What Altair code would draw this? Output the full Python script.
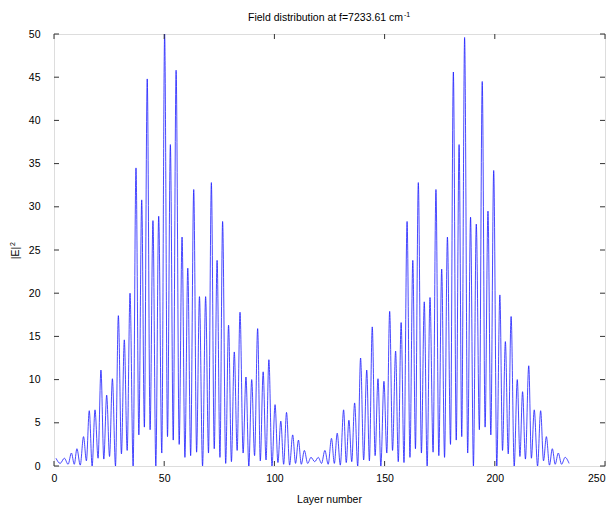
import altair as alt
import pandas as pd

# Extrema of |E|^2 (layer position, value)
left_layer = [0.9, 2.8, 4.7, 6.4, 7.9, 9.2, 10.4, 11.9, 13.4, 14.7, 16.0, 17.3, 18.6, 20.0,
              21.3, 22.6, 23.9, 25.2, 26.5, 27.9, 29.2, 30.6, 31.9, 33.2, 34.5, 35.9, 37.2,
              38.5, 39.8, 41.0, 42.3, 43.6, 44.9, 46.2, 47.5, 48.9, 50.2, 51.5, 52.8, 54.1,
              55.4, 56.8, 58.1, 59.4, 60.7, 62.0, 63.4, 64.7, 66.0, 67.4, 68.8, 70.1, 71.4,
              72.7, 74.0, 75.3, 76.5, 77.9, 79.2, 80.5, 81.8, 83.1, 84.4, 85.8, 87.1, 88.4,
              89.7, 91.0, 92.4, 93.6, 94.9, 96.2, 97.5, 98.9, 100.3, 101.6, 102.9, 104.2,
              105.5, 106.9, 108.3, 109.6, 110.9, 112.2, 113.6, 115.1, 116.6]
left_e2 = [0.9, 0.3, 0.9, 0.2, 1.5, 0.2, 2.0, 0.1, 3.4, 0.6, 6.4, 0.0, 6.5, 0.9,
           11.1, 0.8, 8.2, 1.1, 10.1, 0.0, 17.4, 1.4, 14.6, 1.8, 20.0, 0.0, 34.5,
           3.6, 30.8, 4.5, 44.8, 4.2, 28.4, 0.0, 28.9, 1.5, 50.0, 3.4, 37.2, 3.0,
           45.8, 2.5, 26.5, 1.0, 22.9, 1.2, 32.0, 1.6, 19.6, 0.0, 19.6, 1.5, 32.8,
           2.0, 23.8, 1.0, 28.3, 0.3, 16.3, 0.5, 13.2, 1.8, 17.8, 1.5, 10.3, 0.0,
           10.0, 1.2, 15.9, 0.6, 10.9, 0.7, 12.3, 0.0, 7.1, 0.4, 5.2, 0.2,
           6.2, 0.1, 3.6, 0.3, 3.0, 0.2, 1.8, 0.3, 1.0]

right_layer = [118.3, 119.9, 121.4, 122.9, 124.4, 125.9, 127.2, 128.5, 129.9, 131.4, 132.6,
               133.8, 135.1, 136.4, 137.8, 139.1, 140.5, 141.9, 143.1, 144.4, 145.7, 147.0,
               148.3, 149.7, 151.0, 152.3, 153.6, 155.0, 156.2, 157.5, 158.8, 160.2, 161.5,
               162.8, 164.0, 165.3, 166.7, 168.0, 169.3, 170.6, 172.0, 173.3, 174.6, 175.9,
               177.2, 178.5, 179.9, 181.2, 182.5, 183.8, 185.0, 186.3, 187.7, 189.0, 190.3,
               191.6, 193.0, 194.3, 195.6, 196.9, 198.2, 199.5, 200.9, 202.3, 203.5, 204.8,
               206.1, 207.4, 208.8, 210.2, 211.4, 212.6, 213.9, 215.4, 216.6, 217.9, 219.4,
               220.8, 222.1, 223.4, 224.8, 226.1, 227.4, 228.8, 230.3, 231.9, 233.7]
right_e2 = [0.5, 1.0, 0.3, 1.8, 0.2, 3.2, 0.3, 3.8, 0.1, 6.5, 0.4,
            5.3, 0.5, 7.3, 0.0, 12.5, 0.7, 11.1, 0.6, 16.1, 1.2, 10.1,
            0.0, 9.8, 1.5, 17.9, 1.8, 13.3, 0.5, 16.6, 0.4, 28.3, 1.0,
            23.8, 2.0, 32.8, 1.5, 19.0, 0.0, 19.5, 1.6, 32.0, 1.2, 22.8,
            1.0, 26.5, 2.5, 45.6, 3.0, 37.2, 3.4, 49.6, 1.5, 28.8, 0.0,
            28.0, 4.2, 44.5, 4.5, 29.5, 3.6, 34.2, 0.0, 19.8, 1.8, 14.4,
            1.4, 17.3, 0.0, 10.0, 1.1, 8.6, 0.8, 11.6, 0.9, 6.5, 0.0,
            6.4, 0.6, 3.4, 0.1, 2.0, 0.2, 1.5, 0.2, 1.0, 0.3]

x_ticks = [0, 50, 100, 150, 200, 250]
y_ticks = [0, 5, 10, 15, 20, 25, 30, 35, 40, 45, 50]

title_text = "Field distribution at f=7233.61 cm"
title_sup = "-1"
ylabel_text = "|E|"
ylabel_sup = "2"
xlabel_text = "Layer number"

W, H = 551, 432
FONT = "Liberation Sans"
FS = 10.5

df = pd.DataFrame({"layer": left_layer + right_layer, "e2": left_e2 + right_e2})
xs = alt.Scale(domain=[0, 250], nice=False, zero=False)
ys = alt.Scale(domain=[0, 50], nice=False)

xaxis = alt.Axis(values=x_ticks, title=None, ticks=False, domain=False, grid=False,
                 labelFlush=False, labelOverlap=False,
                 labelAlign={"expr": "datum.value >= 250 ? 'right' : 'center'"},
                 labelPadding=7, labelFontSize=FS, labelFont=FONT, labelColor="black")
yaxis = alt.Axis(values=y_ticks, title=None, ticks=False, domain=False, grid=False,
                 labelFlush=False, labelOverlap=False,
                 labelPadding=14, labelFontSize=FS, labelFont=FONT, labelColor="black")

line = alt.Chart(df).mark_line(
    color="#1a1aff", strokeWidth=0.8, interpolate="monotone", clip=True
).encode(
    x=alt.X("layer:Q", scale=xs, axis=xaxis),
    y=alt.Y("e2:Q", scale=ys, axis=yaxis),
)

xt = pd.DataFrame({"v": x_ticks})
yt = pd.DataFrame({"v": y_ticks})
TICK = "#333333"
bot = alt.Chart(xt).mark_rule(color=TICK).encode(
    x=alt.X("v:Q", scale=xs, axis=xaxis), y=alt.value(H), y2=alt.value(H - 5))
top = alt.Chart(xt).mark_rule(color=TICK).encode(
    x=alt.X("v:Q", scale=xs, axis=xaxis), y=alt.value(0), y2=alt.value(5))
lft = alt.Chart(yt).mark_rule(color=TICK).encode(
    y=alt.Y("v:Q", scale=ys, axis=yaxis), x=alt.value(0), x2=alt.value(5))
rgt = alt.Chart(yt).mark_rule(color=TICK).encode(
    y=alt.Y("v:Q", scale=ys, axis=yaxis), x=alt.value(W), x2=alt.value(W - 5))

one = pd.DataFrame({"a": [0]})


def txt(s, x, y, size=11, angle=0, align="center", baseline="alphabetic"):
    return alt.Chart(one).mark_text(
        text=s, font=FONT, fontSize=size, angle=angle, align=align, baseline=baseline,
        color="black"
    ).encode(x=alt.value(x), y=alt.value(y))


title = txt(title_text, 349, -13, size=FS, align="right")
tsup = txt(title_sup, 350, -17.5, size=7, align="left")
ylab = txt(ylabel_text, -35, 219, size=FS, angle=270, align="center")
ysup = txt(ylabel_sup, -39.5, 210, size=7, angle=270, align="center")
xlab = txt(xlabel_text, W / 2, H + 37, size=FS)

chart = alt.layer(line, bot, top, lft, rgt, title, tsup, ylab, ysup, xlab).properties(
    width=W, height=H,
    autosize=alt.AutoSizeParams(type="none"),
    padding={"left": 46, "top": 26, "right": 3, "bottom": 43},
).configure_view(stroke="#333333", strokeWidth=1).configure(background="white")

chart.save("out.html", embed_options={"renderer": "svg", "actions": False})
